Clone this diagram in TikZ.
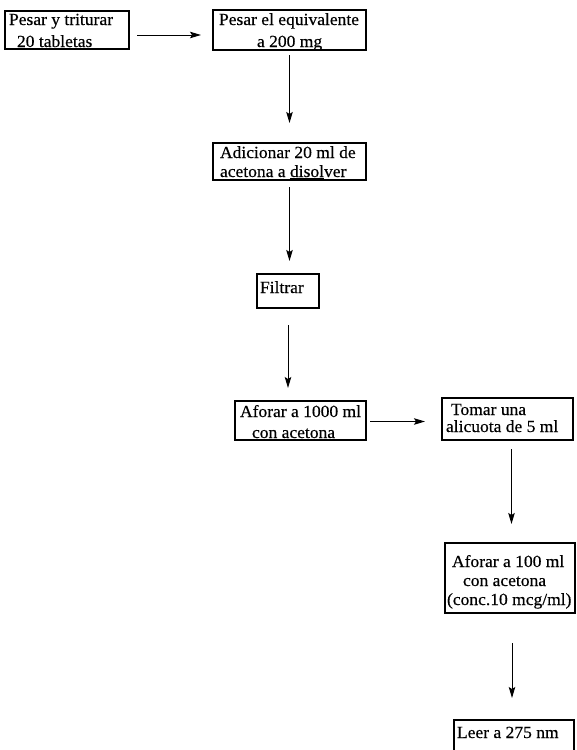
\documentclass[tikz,border=0pt]{standalone}
\usepackage{fontspec}
\setmainfont{Liberation Serif}[FakeStretch=1.03, FakeBold=0.4]
\usetikzlibrary{arrows.meta}

\newcommand{\firstline}{\rule{0pt}{12.5pt}}

\tikzset{
  box/.style={draw, line width=1.2pt, inner sep=0pt, outer sep=0pt, anchor=north west},
  txt/.style={inner sep=0pt, outer sep=0pt, anchor=north west, align=left,
              font=\fontsize{17}{19}\selectfont},
  arr/.style={-{Stealth[length=11pt,width=6.5pt,inset=2pt]}, line width=1pt}
}

\begin{document}
\begin{tikzpicture}[x=1pt,y=-1pt]
  \useasboundingbox (0,0) rectangle (577,750);
  \clip (0,0) rectangle (577,750);

  % process boxes
  \node[box, minimum width=124pt, minimum height=38pt] (b1) at (5,11) {};
  \node[box, minimum width=153pt, minimum height=40pt] (b2) at (213,10) {};
  \node[box, minimum width=153pt, minimum height=37pt] (b3) at (213,143) {};
  \node[box, minimum width=62pt,  minimum height=34pt] (b4) at (257,274) {};
  \node[box, minimum width=131pt, minimum height=39pt] (b5) at (235,401) {};
  \node[box, minimum width=131pt, minimum height=42pt] (b6) at (442,398) {};
  \node[box, minimum width=130pt, minimum height=70pt] (b7) at (445,543) {};
  \node[box, minimum width=120pt, minimum height=45pt] (b8) at (454,720) {};

  % box texts
  \node[txt] (t1) at (9,12.5) {\firstline Pesar y triturar\\[3pt]\hspace*{8pt}20 tabletas};
  \node[txt] (t2) at (219,12.5) {\firstline Pesar el equivalente\\[3pt]\hspace*{38pt}a 200 mg};
  \node[txt] (t3) at (220,145.5) {\firstline Adicionar 20 ml de\\acetona a \underline{disol}ver};
  \node[txt] (t4) at (260,280.5) {\firstline Filtrar};
  \node[txt] (t5) at (240,404.5) {\firstline Aforar a 1000 ml\\[2pt]\hspace*{12pt}con acetona};
  \node[txt] (t6) at (446,402.5) {\firstline\hspace*{5pt}Tomar una\\[-2pt]alicuota de 5 ml};
  \node[txt] (t7) at (447,554.5) {\firstline\hspace*{5pt}Aforar a 100 ml\\\hspace*{16pt}con acetona\\(conc.10 mcg/ml)};
  \node[txt] (t8) at (457,725.5) {\firstline Leer a 275 nm};

  % connectors
  \draw[arr, shorten <=8pt, shorten >=12pt] ([yshift=-5pt]b1.east) -- ([yshift=-5pt]b1.east -| b2.west);
  \draw[arr, shorten <=5pt, shorten >=20pt] (b2.south) -- (b2.south |- b3.north);
  \draw[arr, shorten <=7pt, shorten >=13pt] (b3.south) -- (b3.south |- b4.north);
  \draw[arr, shorten <=17pt, shorten >=13pt] (b4.south) -- (b4.south |- b5.north);
  \draw[arr, shorten <=4pt, shorten >=17pt] ([yshift=-1pt]b5.east) -- ([yshift=-1pt]b5.east -| b6.west);
  \draw[arr, shorten <=9pt, shorten >=19pt] ([xshift=4pt]b6.south) -- ([xshift=4pt]b6.south |- b7.north);
  \draw[arr, shorten <=30pt, shorten >=22pt] ([xshift=2pt]b7.south) -- ([xshift=2pt]b7.south |- b8.north);
\end{tikzpicture}
\end{document}
